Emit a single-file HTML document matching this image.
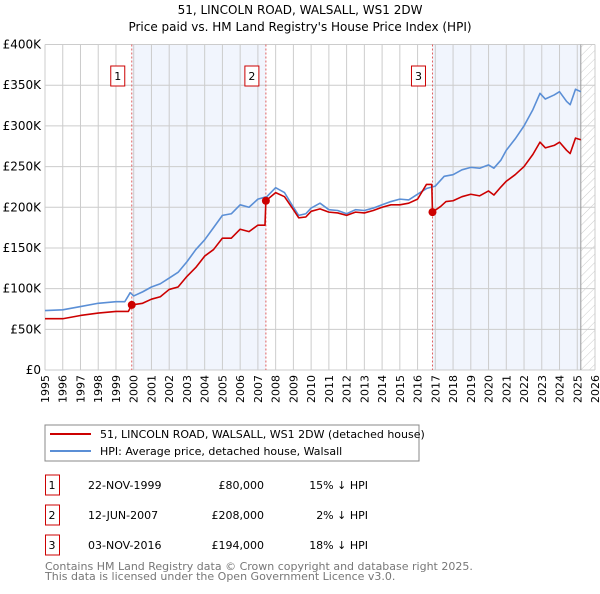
<!DOCTYPE html>
<html><head><meta charset="utf-8"><style>
body{margin:0;background:#fff;font-family:"DejaVu Sans","Liberation Sans",sans-serif}
svg text{font-family:"DejaVu Sans","Liberation Sans",sans-serif}
</style></head><body>
<svg id="c" width="600" height="590" xmlns="http://www.w3.org/2000/svg">
<defs><pattern id="hatch" width="6" height="6" patternUnits="userSpaceOnUse" patternTransform="rotate(45)"><line x1="0" y1="0" x2="0" y2="6" stroke="#ccc" stroke-width="1"/></pattern></defs>
<text x="300" y="14" text-anchor="middle" font-size="12">51, LINCOLN ROAD, WALSALL, WS1 2DW</text>
<text x="300" y="31" text-anchor="middle" font-size="12">Price paid vs. HM Land Registry's House Price Index (HPI)</text>
<g id="plot"></g>
<g>
<rect x="45" y="425" width="374" height="36" fill="#fff" stroke="#888"/>
<line x1="50" y1="434" x2="91" y2="434" stroke="#cc0000" stroke-width="2"/>
<text x="100" y="438" font-size="11">51, LINCOLN ROAD, WALSALL, WS1 2DW (detached house)</text>
<line x1="50" y1="451" x2="91" y2="451" stroke="#5b8fd6" stroke-width="2"/>
<text x="100" y="455" font-size="11">HPI: Average price, detached house, Walsall</text>
</g>
<g id="table" font-size="11"></g>
<text x="45" y="570" font-size="11" fill="#777">Contains HM Land Registry data © Crown copyright and database right 2025.</text>
<text x="45" y="580" font-size="11" fill="#777">This data is licensed under the Open Government Licence v3.0.</text>
</svg>
<script>
const hpiYears=[1995,1996,1997,1998,1999,1999.5,1999.8,2000,2000.5,2001,2001.5,2002,2002.5,2003,2003.5,2004,2004.5,2005,2005.5,2006,2006.5,2007,2007.5,2008,2008.5,2009,2009.3,2009.7,2010,2010.5,2011,2011.5,2012,2012.5,2013,2013.5,2014,2014.5,2015,2015.5,2016,2016.5,2017,2017.5,2018,2018.5,2019,2019.5,2020,2020.3,2020.7,2021,2021.5,2022,2022.5,2022.9,2023.2,2023.7,2024,2024.4,2024.6,2024.9,2025.2];
const hpiValues=[73,74,78,82,84,84,95,91,96,102,106,113,120,133,148,160,175,190,192,203,200,210,213,224,218,200,190,192,199,205,197,196,192,197,196,199,203,207,210,209,216,223,226,238,240,246,249,248,252,248,258,270,284,300,320,340,333,338,342,330,326,345,342];
const redYears=[1995,1996,1997,1998,1999,1999.7,1999.89,2000.5,2001,2001.5,2002,2002.5,2003,2003.5,2004,2004.5,2005,2005.5,2006,2006.5,2007,2007.4,2007.45,2008,2008.5,2009,2009.3,2009.7,2010,2010.5,2011,2011.5,2012,2012.5,2013,2013.5,2014,2014.5,2015,2015.5,2016,2016.5,2016.8,2016.84,2017.3,2017.6,2018,2018.5,2019,2019.5,2020,2020.3,2020.7,2021,2021.5,2022,2022.5,2022.9,2023.2,2023.7,2024,2024.4,2024.6,2024.9,2025.2];
const redValues=[63,63,67,70,72,72,80,82,87,90,99,102,115,126,140,148,162,162,173,170,178,178,208,218,213,197,187,188,195,198,194,193,190,194,193,196,200,203,203,205,210,228,228,194,201,207,208,213,216,214,220,215,225,232,240,250,265,280,273,276,280,270,266,285,283];
const saleYears=[1999.89,2007.45,2016.84];
const saleValues=[80,208,194];
const saleLabels=["1","2","3"];
const saleDates=["22-NOV-1999","12-JUN-2007","03-NOV-2016"];
const salePrices=["£80,000","£208,000","£194,000"];
const saleDiffs=["15% ↓ HPI","2% ↓ HPI","18% ↓ HPI"];
const yTicks=[0,50,100,150,200,250,300,350,400];
const yTickLabels=["£0","£50K","£100K","£150K","£200K","£250K","£300K","£350K","£400K"];
const xTicks=[1995,1996,1997,1998,1999,2000,2001,2002,2003,2004,2005,2006,2007,2008,2009,2010,2011,2012,2013,2014,2015,2016,2017,2018,2019,2020,2021,2022,2023,2024,2025,2026];
const dataEnd=2025.2;

const L=45,R=595,T=44.5,B=370;
const X=y=>L+(y-1995)/(2026-1995)*(R-L);
const Y=v=>B-v/400*(B-T);
const NS="http://www.w3.org/2000/svg";
const g=document.getElementById('plot');
function mk(tag,attrs,parent){const e=document.createElementNS(NS,tag);for(const k in attrs)e.setAttribute(k,attrs[k]);(parent||g).appendChild(e);return e;}
// shading
let s=mk('rect',{x:X(saleYears[0]),y:T,width:X(saleYears[1])-X(saleYears[0]),height:B-T,fill:'#eef3fc',opacity:0.8});


s=mk('rect',{x:X(saleYears[2]),y:T,width:X(dataEnd)-X(saleYears[2]),height:B-T,fill:'#eef3fc',opacity:0.8});


s=mk('rect',{x:X(dataEnd),y:T,width:R-X(dataEnd),height:B-T,fill:'url(#hatch)'});


// grid
xTicks.forEach(t=>{
 const l=mk('line',{x1:X(t),x2:X(t),y1:T,y2:B,stroke:'#ccc','stroke-width':1});
 
 
 const tx=mk('text',{x:0,y:0,'font-size':11,'text-anchor':'end',transform:`translate(${X(t)+4},${B+5}) rotate(-90)`});
 tx.textContent=t;
 
 
});
yTicks.forEach((t,i)=>{
 const l=mk('line',{x1:L,x2:R,y1:Y(t),y2:Y(t),stroke:'#ccc','stroke-width':1});
 
 
 const tx=mk('text',{x:L-4,y:Y(t)+4,'font-size':12,'text-anchor':'end'});
 tx.textContent=yTickLabels[i];
 
 
});
let dl=mk('line',{x1:X(dataEnd),x2:X(dataEnd),y1:T,y2:B,stroke:'#999','stroke-width':1});


// sale vlines and labels
saleYears.forEach((yr,i)=>{
 const l=mk('line',{x1:X(yr),x2:X(yr),y1:T,y2:B,stroke:'#e06060','stroke-width':1,'stroke-dasharray':'2,2'});
 
 
 const r=mk('rect',{x:X(yr)-21,y:66,width:14,height:20,fill:'#fff',stroke:'#cc0000'});
 
 
 const tx=mk('text',{x:X(yr)-14,y:80,'font-size':11,'text-anchor':'middle'});
 tx.textContent=saleLabels[i];
 
 
});
function line(xs,vs,col,name){
 const p=mk('polyline',{points:xs.map((x,i)=>X(x)+','+Y(vs[i])).join(' '),fill:'none',stroke:col,'stroke-width':1.6,'stroke-linejoin':'round'});
 
 
}
line(hpiYears,hpiValues,'#5b8fd6','hpi-line');
line(redYears,redValues,'#cc0000','property-line');
saleYears.forEach((yr,i)=>{
 const c=mk('circle',{cx:X(yr),cy:Y(saleValues[i]),r:4,fill:'#cc0000'});
 
 
});
// table
const tb=document.getElementById('table');
saleLabels.forEach((lab,i)=>{
 const y0=475+i*30;
 const r=mk('rect',{x:45.5,y:y0,width:14,height:20,fill:'#fff',stroke:'#cc0000'},tb);
 
 
 const cells=[[52,lab,'middle'],[88,saleDates[i],'start'],[264,salePrices[i],'end'],[368,saleDiffs[i],'end']];
 cells.forEach(c=>{
  const t=mk('text',{x:c[0],y:y0+14,'text-anchor':c[2],'font-size':11},tb);
  t.textContent=c[1];
  
  
 });
});
</script>
</body></html>
